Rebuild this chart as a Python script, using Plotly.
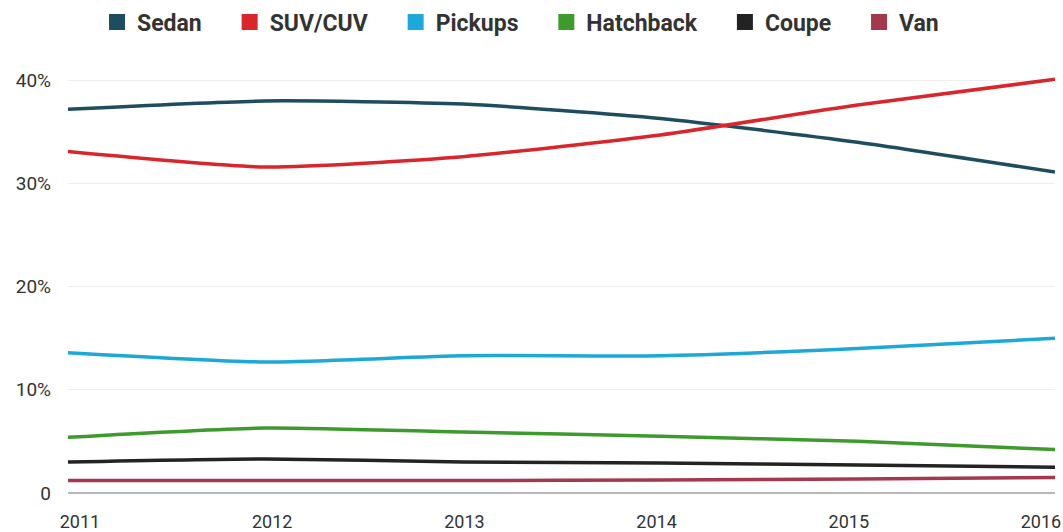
import plotly.graph_objects as go

years = [2011, 2012, 2013, 2014, 2015, 2016]
sedan = [37.2, 38.0, 37.7, 36.3, 34.0, 31.1]
suv = [33.1, 31.6, 32.6, 34.7, 37.6, 40.1]
pickups = [13.6, 12.7, 13.3, 13.3, 14.0, 15.0]
hatchback = [5.4, 6.3, 5.9, 5.5, 5.0, 4.2]
coupe = [3.0, 3.3, 3.0, 2.9, 2.7, 2.5]
van = [1.2, 1.2, 1.2, 1.25, 1.35, 1.5]

series_names = ["Sedan", "SUV/CUV", "Pickups", "Hatchback", "Coupe", "Van"]
series_values = [sedan, suv, pickups, hatchback, coupe, van]
colors = ["#1d4d5e", "#d8262c", "#1ea8d8", "#3e9a2d", "#232323", "#a3394c"]

y_tickvals = [0, 10, 20, 30, 40]
y_ticktext = ["0", "10%", "20%", "30%", "40%"]
x_ticktext = [str(y) for y in years]

PAD = "\u00a0\u00a0\u00a0\u00a0"

fig = go.Figure()
for name, vals, col in zip(series_names, series_values, colors):
    fig.add_trace(go.Scatter(
        x=years, y=vals, mode="lines", name=name,
        line=dict(color=col, width=3.5, shape="spline", smoothing=0.6),
        showlegend=False, hoverinfo="x+y+name",
    ))
for name, col in zip(series_names, colors):
    fig.add_trace(go.Scatter(
        x=[None], y=[None], mode="markers", name=name + PAD,
        marker=dict(symbol="square", size=18, color=col),
        showlegend=True,
    ))
# invisible trace so the label axis is drawn
fig.add_trace(go.Scatter(x=[years[0]], y=[0], xaxis="x2", mode="markers",
                         marker=dict(opacity=0), showlegend=False, hoverinfo="skip"))

fig.update_layout(
    width=1063, height=532,
    margin=dict(l=68, r=8, t=70, b=37),
    paper_bgcolor="white", plot_bgcolor="white",
    font=dict(family="Roboto", color="#333333"),
    legend=dict(
        orientation="h", xref="container", yref="container",
        x=0.5005, xanchor="center", y=0.9586, yanchor="middle",
        font=dict(family="Roboto", size=23, color="#333333", weight="bold"),
    ),
    xaxis=dict(
        range=[2011, 2016], tickvals=years, showticklabels=False,
        showgrid=False, zeroline=False, showline=False, automargin=False,
    ),
    xaxis2=dict(
        overlaying="x", side="bottom",
        range=[2010.9376, 2016.073], tickvals=years, ticktext=x_ticktext,
        showgrid=False, zeroline=False, showline=False, automargin=False,
        ticks="outside", ticklen=10, tickcolor="rgba(0,0,0,0)",
        tickfont=dict(size=18, color="#333333"),
        ticklabeloverflow="allow",
    ),
    yaxis=dict(
        range=[-0.2, 41], tickvals=y_tickvals, ticktext=y_ticktext,
        showgrid=True, gridcolor="#eeeeee", gridwidth=1,
        zeroline=True, zerolinecolor="#b8b8b8", zerolinewidth=1.5,
        showline=False, ticks="", tickfont=dict(size=19, color="#333333"),
        ticklabelstandoff=16, automargin=False,
    ),
)

fig.write_html(
    "out.html",
    config={"displayModeBar": False},
    post_script="document.body.style.margin='0';document.body.style.overflow='hidden';",
)
